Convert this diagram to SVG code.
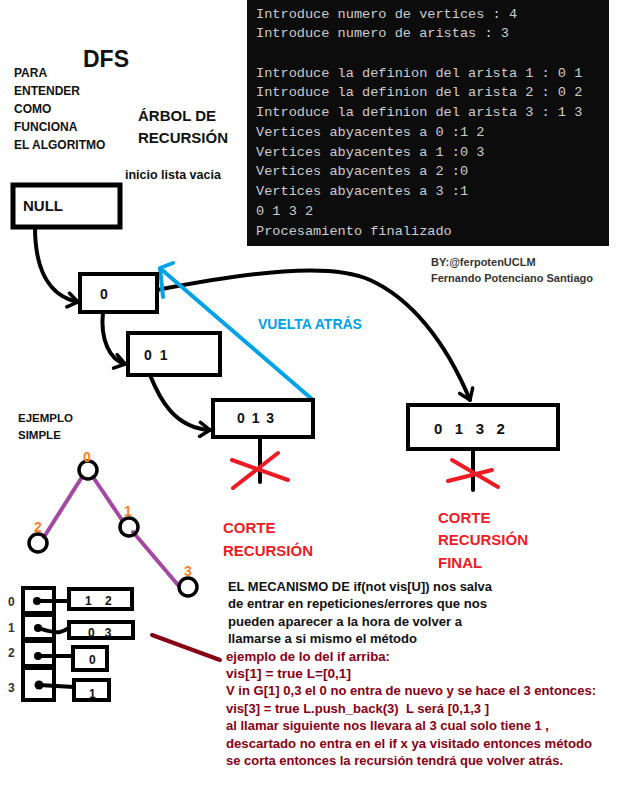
<svg xmlns="http://www.w3.org/2000/svg" width="622" height="796" viewBox="0 0 622 796">
<style>
.b{font-family:"Liberation Sans",Arial,sans-serif;font-weight:bold;fill:#111;white-space:pre}
.mono{font-family:"Liberation Mono","DejaVu Sans Mono",monospace;font-size:13.6px;fill:#cccccc;white-space:pre}
.box{fill:#fff;stroke:#000;stroke-width:4}
.cur{fill:none;stroke:#000;stroke-width:4;stroke-linecap:round}
.red{stroke:#ed1c24;stroke-width:4;stroke-linecap:round;fill:none}
.pur{stroke:#a349a4;stroke-width:4;stroke-linecap:round}
.gn{fill:none;stroke:#000;stroke-width:3.5}
.or{font-family:"Liberation Sans",Arial,sans-serif;font-weight:bold;font-size:14px;fill:#ff7f27;text-anchor:middle}
.rt{font-family:"Liberation Sans",Arial,sans-serif;font-weight:bold;font-size:15px;fill:#ed1c24}
.dr{font-family:"Liberation Sans",Arial,sans-serif;font-weight:bold;font-size:12px;fill:#880015;white-space:pre}
.bk{font-family:"Liberation Sans",Arial,sans-serif;font-weight:bold;font-size:12px;fill:#111;white-space:pre}
.gray{fill:#333}
.blue{fill:#00a2e8}
</style>
<defs>
<marker id="chev" viewBox="-13 -9 16 18" refX="0" refY="0" markerWidth="16" markerHeight="18" markerUnits="userSpaceOnUse" orient="auto">
<path d="M-10,-7 L0,0 L-10,7" fill="none" stroke="#000" stroke-width="3.5" stroke-linecap="round" stroke-linejoin="round"/>
</marker>
</defs>
<rect width="622" height="796" fill="#fff"/>

<g id="terminal">
<rect x="247" y="0" width="362" height="246" fill="#0c0c0c"/>
<text class="mono" x="256" y="18">Introduce numero de vertices : 4</text>
<text class="mono" x="256" y="37">Introduce numero de aristas : 3</text>
<text class="mono" x="256" y="77">Introduce la definion del arista 1 : 0 1</text>
<text class="mono" x="256" y="96">Introduce la definion del arista 2 : 0 2</text>
<text class="mono" x="256" y="116">Introduce la definion del arista 3 : 1 3</text>
<text class="mono" x="256" y="136">Vertices abyacentes a 0 :1 2</text>
<text class="mono" x="256" y="156">Vertices abyacentes a 1 :0 3</text>
<text class="mono" x="256" y="175">Vertices abyacentes a 2 :0</text>
<text class="mono" x="256" y="195">Vertices abyacentes a 3 :1</text>
<text class="mono" x="256" y="215">0 1 3 2</text>
<text class="mono" x="256" y="235">Procesamiento finalizado</text>
</g>

<g id="titles">
<text class="b" x="83" y="67" font-size="23">DFS</text>
<text class="b" x="14" y="77" font-size="12">PARA</text>
<text class="b" x="14" y="95" font-size="12">ENTENDER</text>
<text class="b" x="14" y="113" font-size="12">COMO</text>
<text class="b" x="14" y="131" font-size="12">FUNCIONA</text>
<text class="b" x="14" y="149" font-size="12">EL ALGORITMO</text>
<text class="b" x="138" y="121" font-size="15">ÁRBOL DE</text>
<text class="b" x="138" y="143" font-size="15">RECURSIÓN</text>
<text class="b" x="125" y="179" font-size="12.5">inicio lista vacia</text>
<text class="b gray" x="431" y="266" font-size="11">BY:@ferpotenUCLM</text>
<text class="b gray" x="431" y="282" font-size="11">Fernando Potenciano Santiago</text>
</g>

<g id="connectors">
<path class="cur" d="M35,227 C35,268 48,296 78,302" marker-end="url(#chev)"/>
<path class="cur" d="M103,312 C100,340 110,360 125,364" marker-end="url(#chev)"/>
<path class="cur" d="M150,375 C160,400 175,428 210,430" marker-end="url(#chev)"/>
<path class="cur" d="M157,290 C250,272 330,262 370,280 S445,340 470,400" marker-end="url(#chev)"/>
<line class="cur" x1="260" y1="437" x2="260" y2="482"/>
<line class="cur" x1="473" y1="449" x2="473" y2="490"/>
<line x1="313" y1="400" x2="161" y2="269" stroke="#00a2e8" stroke-width="4" stroke-linecap="round"/>
<polyline points="173,263 160,268 163,297" fill="none" stroke="#00a2e8" stroke-width="4" stroke-linecap="round" stroke-linejoin="round"/>
<line x1="152" y1="635" x2="220" y2="660" stroke="#880015" stroke-width="4" stroke-linecap="round"/>
</g>

<g id="node-null">
<rect x="13" y="185" width="107" height="42" fill="#fff" stroke="#000" stroke-width="5"/>
<text class="b" x="23" y="211" font-size="15">NULL</text>
</g>
<g id="node-0">
<rect class="box" x="80" y="274" width="77" height="38"/>
<text class="b" x="100" y="299" font-size="14">0</text>
</g>
<g id="node-01">
<rect class="box" x="128" y="333" width="92" height="42"/>
<text class="b" x="144" y="360" font-size="14" letter-spacing="2">0 1</text>
</g>
<g id="node-013">
<rect class="box" x="213" y="400" width="100" height="37"/>
<text class="b" x="237" y="423" font-size="14" letter-spacing="1.5">0 1 3</text>
</g>
<g id="node-0132">
<rect class="box" x="408" y="405" width="150" height="44"/>
<text class="b" x="434" y="434" font-size="15">0   1   3   2</text>
</g>

<g id="cuts">
<line class="red" x1="232" y1="460" x2="288" y2="480"/>
<line class="red" x1="278" y1="453" x2="233" y2="488"/>
<line class="red" x1="452" y1="460" x2="498" y2="487"/>
<line class="red" x1="448" y1="481" x2="492" y2="470"/>
<text class="b blue" x="258" y="329" font-size="14">VUELTA ATRÁS</text>
<text class="rt" x="223" y="533">CORTE</text>
<text class="rt" x="223" y="556">RECURSIÓN</text>
<text class="rt" x="438" y="523">CORTE</text>
<text class="rt" x="438" y="545">RECURSIÓN</text>
<text class="rt" x="438" y="568">FINAL</text>
</g>

<g id="example-graph">
<text class="b" x="18" y="422" font-size="11.5">EJEMPLO</text>
<text class="b" x="18" y="439" font-size="11.5">SIMPLE</text>
<line class="pur" x1="82" y1="477" x2="44" y2="537"/>
<line class="pur" x1="93" y1="477" x2="122" y2="520"/>
<line class="pur" x1="133" y1="532" x2="178" y2="585"/>
<g id="g0"><circle class="gn" cx="88" cy="470" r="9"/><text class="or" x="87" y="462">0</text></g>
<g id="g1"><circle class="gn" cx="129" cy="527" r="9"/><text class="or" x="128" y="516">1</text></g>
<g id="g2"><circle class="gn" cx="38" cy="543" r="9"/><text class="or" x="38" y="532">2</text></g>
<g id="g3"><circle class="gn" cx="188" cy="587" r="9"/><text class="or" x="188" y="576">3</text></g>
</g>

<g id="adjacency">
<text class="b gray" x="8" y="606" font-size="12">0</text>
<text class="b gray" x="8" y="632" font-size="12">1</text>
<text class="b gray" x="8" y="657" font-size="12">2</text>
<text class="b gray" x="8" y="692" font-size="12">3</text>
<rect class="box" x="23" y="588" width="31" height="25"/>
<rect class="box" x="23" y="615" width="31" height="24"/>
<rect class="box" x="23" y="641" width="31" height="25"/>
<rect class="box" x="23" y="668" width="31" height="32"/>
<circle cx="37" cy="601" r="4"/>
<circle cx="38" cy="628" r="4"/>
<circle cx="38" cy="656" r="4"/>
<circle cx="39" cy="685" r="4.5"/>
<path class="cur" stroke-width="3" d="M37,601 L69,601"/>
<path class="cur" stroke-width="3" d="M38,628 C48,631 52,633 60,632 C66,631 68,628 72,626"/>
<path class="cur" stroke-width="3" d="M38,656 L78,656"/>
<path class="cur" stroke-width="3" d="M39,685 L74,687"/>
<rect class="box" x="69" y="589" width="63" height="20"/>
<rect class="box" x="69" y="622" width="64" height="16"/>
<rect class="box" x="73" y="647" width="34" height="23"/>
<rect class="box" x="74" y="680" width="35" height="20"/>
<text class="b" x="85" y="605" font-size="12">1    2</text>
<text class="b" x="88" y="637" font-size="12">0   3</text>
<text class="b" x="89" y="664" font-size="12">0</text>
<text class="b" x="89" y="698" font-size="12">1</text>
</g>

<g id="explanation">
<text class="bk" x="228" y="591" textLength="264" lengthAdjust="spacingAndGlyphs">EL MECANISMO DE if(not vis[U]) nos salva</text>
<text class="bk" x="228" y="608" textLength="259" lengthAdjust="spacingAndGlyphs">de entrar en repeticiones/errores que nos</text>
<text class="bk" x="228" y="626" textLength="234" lengthAdjust="spacingAndGlyphs">pueden aparecer a la hora de volver a</text>
<text class="bk" x="228" y="643" textLength="189" lengthAdjust="spacingAndGlyphs">llamarse a si mismo el método</text>
<text class="dr" x="226" y="661" textLength="164" lengthAdjust="spacingAndGlyphs">ejemplo de lo del if arriba:</text>
<text class="dr" x="226" y="678" textLength="125" lengthAdjust="spacingAndGlyphs">vis[1] = true L=[0,1]</text>
<text class="dr" x="226" y="695" textLength="370" lengthAdjust="spacingAndGlyphs">V in G[1] 0,3 el 0 no entra de nuevo y se hace el 3 entonces:</text>
<text class="dr" x="226" y="713" textLength="263" lengthAdjust="spacingAndGlyphs">vis[3] = true L.push_back(3)  L será [0,1,3 ]</text>
<text class="dr" x="226" y="730" textLength="323" lengthAdjust="spacingAndGlyphs">al llamar siguiente nos llevara al 3 cual solo tiene 1 ,</text>
<text class="dr" x="226" y="748" textLength="366" lengthAdjust="spacingAndGlyphs">descartado no entra en el if x ya visitado entonces método</text>
<text class="dr" x="226" y="765" textLength="337" lengthAdjust="spacingAndGlyphs">se corta entonces la recursión tendrá que volver atrás.</text>
</g>
</svg>
